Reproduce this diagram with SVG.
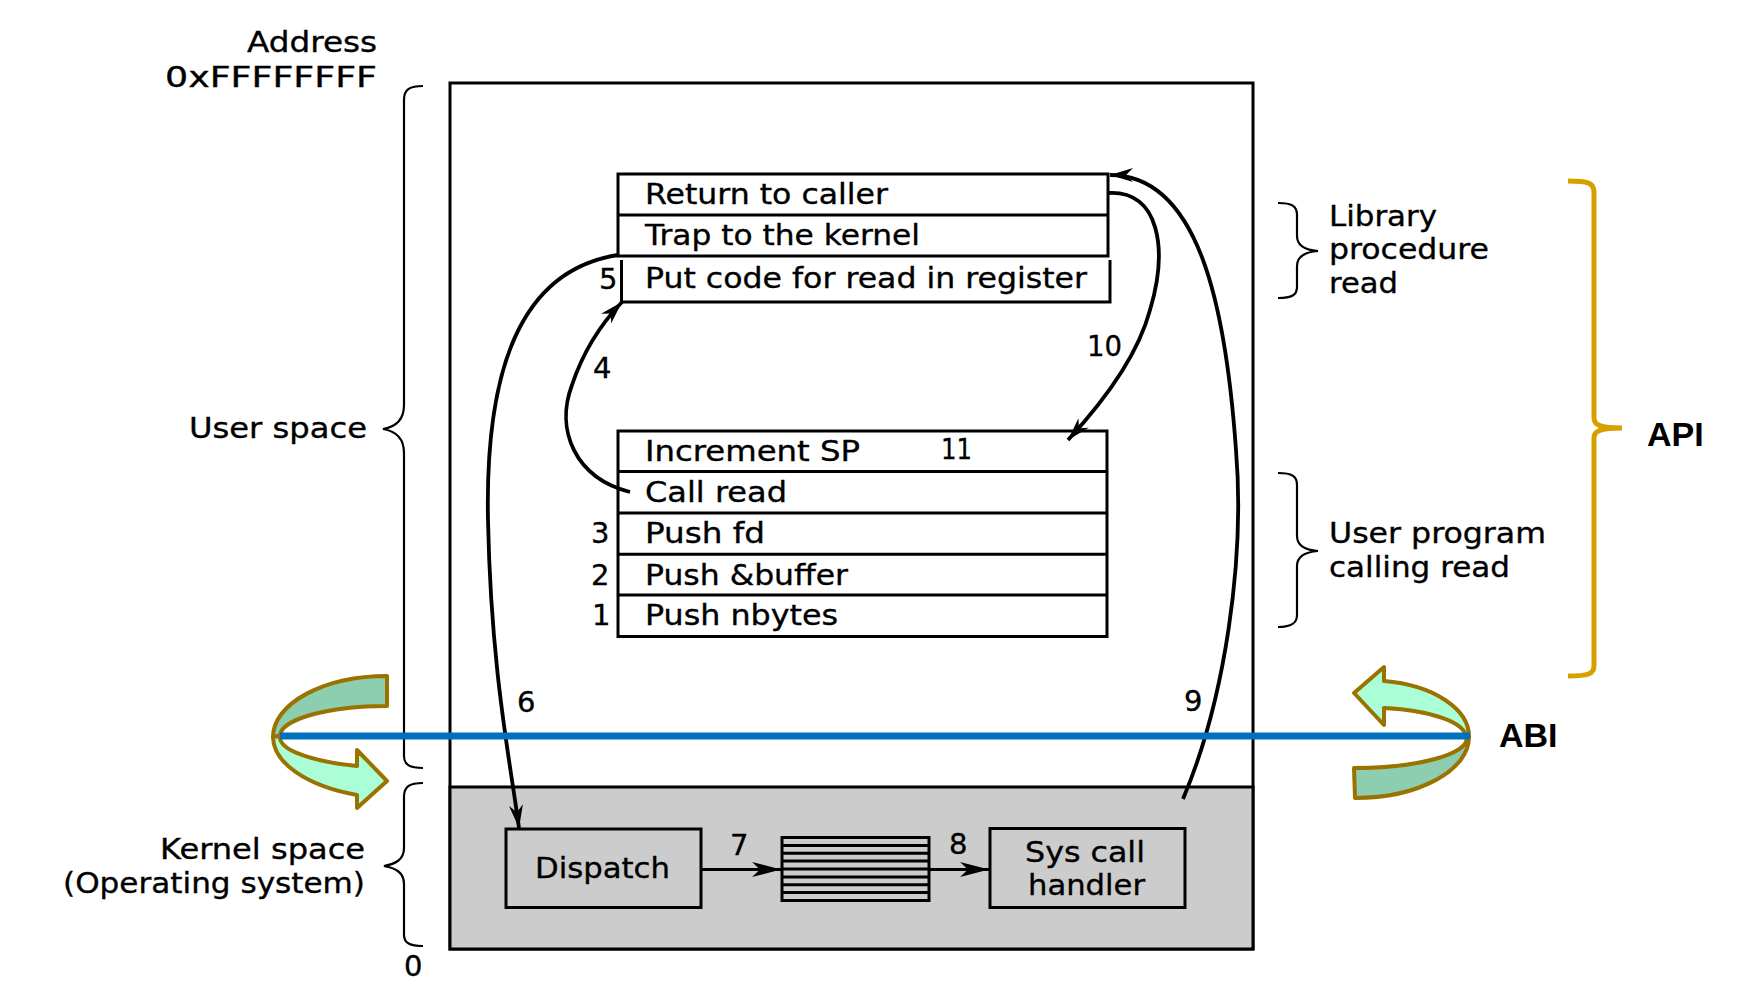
<svg xmlns="http://www.w3.org/2000/svg" width="1757" height="1000" viewBox="0 0 1757 1000">
<style>
  .t { font-family: "DejaVu Sans", "Liberation Sans", sans-serif; font-size: 28px; fill: #000; stroke: #000; stroke-width: 0.35; }
  .n { font-family: "DejaVu Sans", "Liberation Sans", sans-serif; font-size: 29px; fill: #000; stroke: #000; stroke-width: 0.35; }
  .b { font-family: "Liberation Sans", Arial, sans-serif; font-size: 34px; font-weight: bold; fill: #000; }
  .box { fill: none; stroke: #000; stroke-width: 3; }
  .ln { stroke: #000; stroke-width: 3; fill: none; }
  .br { fill: none; stroke: #000; stroke-width: 2.2; }
  .cv { fill: none; stroke: #000; stroke-width: 3.8; }
  .arr { stroke: #9A7200; stroke-width: 4; stroke-linejoin: round; }
  .front { fill: #AAFFD6; }
  .back { fill: #8DCDB0; }
</style>
<defs>
  <marker id="ah" markerUnits="userSpaceOnUse" viewBox="-31 -10 32 20" refX="0" refY="0" markerWidth="32" markerHeight="20" orient="auto">
    <path d="M0,0 L-29,-7.5 L-21,0 L-29,7.5 Z" fill="#000"/>
  </marker>
  <marker id="ahs" markerUnits="userSpaceOnUse" viewBox="-26 -10 27 20" refX="0" refY="0" markerWidth="27" markerHeight="20" orient="auto">
    <path d="M0,0 L-23,-7 L-16,0 L-23,7 Z" fill="#000"/>
  </marker>
</defs>
<rect width="1757" height="1000" fill="#fff"/>

<g id="address-space">
  <rect x="450" y="83" width="803" height="866" fill="#fff" stroke="#000" stroke-width="3"/>
  <rect id="kernel-space" x="450" y="787" width="803" height="162" fill="#CCCCCC" stroke="#000" stroke-width="3"/>
</g>

<g id="left-labels">
  <text class="t" x="247" y="52" textLength="130" lengthAdjust="spacingAndGlyphs">Address</text>
  <text class="t" x="165" y="87" textLength="212" lengthAdjust="spacingAndGlyphs">0xFFFFFFFF</text>
  <text class="t" x="189" y="438" textLength="178" lengthAdjust="spacingAndGlyphs">User space</text>
  <text class="t" x="160" y="859" textLength="205" lengthAdjust="spacingAndGlyphs">Kernel space</text>
  <text class="t" x="63" y="893" textLength="302" lengthAdjust="spacingAndGlyphs">(Operating system)</text>
  <text class="n" x="404" y="976">0</text>
  <path class="br" d="M423,86 C410,86 404,89 404,100 V405 C404,420 395,427 383,429 C395,431 404,438 404,453 V756 C404,765 410,768 423,768"/>
  <path class="br" d="M423,783 C410,783 404,786 404,797 V848 C404,860 395,864 384,866 C395,868 404,872 404,884 V935 C404,943 410,946 423,946"/>
</g>

<g id="library-procedure">
  <rect class="box" x="618" y="174" width="490" height="82"/>
  <line class="ln" x1="618" y1="215" x2="1108" y2="215"/>
  <path class="ln" d="M621.5,260 V302 H1110 V260"/>
  <text class="t" x="645" y="204" textLength="243" lengthAdjust="spacingAndGlyphs">Return to caller</text>
  <text class="t" x="645" y="245" textLength="275" lengthAdjust="spacingAndGlyphs">Trap to the kernel</text>
  <text class="t" x="645" y="288" textLength="442" lengthAdjust="spacingAndGlyphs">Put code for read in register</text>
</g>

<g id="user-program">
  <rect class="box" x="618" y="431" width="489" height="205.5"/>
  <line class="ln" x1="618" y1="471.5" x2="1107" y2="471.5"/>
  <line class="ln" x1="618" y1="513" x2="1107" y2="513"/>
  <line class="ln" x1="618" y1="554.3" x2="1107" y2="554.3"/>
  <line class="ln" x1="618" y1="595" x2="1107" y2="595"/>
  <text class="t" x="645" y="460.5" textLength="215" lengthAdjust="spacingAndGlyphs">Increment SP</text>
  <text class="t" x="645" y="502" textLength="142" lengthAdjust="spacingAndGlyphs">Call read</text>
  <text class="t" x="645" y="543" textLength="120" lengthAdjust="spacingAndGlyphs">Push fd</text>
  <text class="t" x="645" y="585" textLength="203" lengthAdjust="spacingAndGlyphs">Push &amp;buffer</text>
  <text class="t" x="645" y="625" textLength="193" lengthAdjust="spacingAndGlyphs">Push nbytes</text>
</g>

<g id="dispatch">
  <rect class="box" x="506" y="829" width="195" height="78.5"/>
  <text class="t" x="535" y="878" textLength="135" lengthAdjust="spacingAndGlyphs">Dispatch</text>
</g>

<g id="syscall-table">
  <rect class="box" x="782" y="837.5" width="147" height="63"/>
  <path class="ln" d="M782,845.4 H929 M782,853.3 H929 M782,861.1 H929 M782,869 H929 M782,876.9 H929 M782,884.8 H929 M782,892.6 H929"/>
</g>

<g id="syscall-handler">
  <rect class="box" x="990" y="828.5" width="195" height="79"/>
  <text class="t" x="1025" y="862" textLength="120" lengthAdjust="spacingAndGlyphs">Sys call</text>
  <text class="t" x="1028" y="895" textLength="117" lengthAdjust="spacingAndGlyphs">handler</text>
</g>

<g id="right-labels">
  <path class="br" d="M1278,203 C1292,203 1297,206 1297,215 V236 C1297,246 1305,250 1318,251 C1305,252 1297,256 1297,266 V287 C1297,295 1292,298 1278,298"/>
  <text class="t" x="1329" y="225.5" textLength="108" lengthAdjust="spacingAndGlyphs">Library</text>
  <text class="t" x="1329" y="259" textLength="160" lengthAdjust="spacingAndGlyphs">procedure</text>
  <text class="t" x="1329" y="293" textLength="69" lengthAdjust="spacingAndGlyphs">read</text>
  <path class="br" d="M1278,473 C1292,473 1297,476 1297,485 V536 C1297,546 1305,550 1318,551 C1305,552 1297,556 1297,566 V615 C1297,623 1292,627 1278,627"/>
  <text class="t" x="1329" y="543" textLength="217" lengthAdjust="spacingAndGlyphs">User program</text>
  <text class="t" x="1329" y="576.5" textLength="181" lengthAdjust="spacingAndGlyphs">calling read</text>
</g>

<g id="api">
  <path d="M1568,181 C1588,181 1594,183 1594,192 V418 C1594,425 1600,428 1622,428 C1600,428 1594,431 1594,438 V666 C1594,674 1588,676 1568,676" fill="none" stroke="#D6A100" stroke-width="5"/>
  <text class="b" x="1647" y="446">API</text>
</g>

<g id="connectors">
  <path class="cv" d="M618,255 C520,270 485,370 488,520 C491,670 510,760 519,828" marker-end="url(#ahs)"/>
  <path class="cv" d="M630,492 C575,478 555,430 572,385 C582,355 600,325 622,302" marker-end="url(#ahs)"/>
  <path class="cv" d="M1108,193 C1160,190 1168,250 1150,310 C1138,355 1105,400 1068,440" marker-end="url(#ahs)"/>
  <path class="cv" d="M1183,799 C1225,700 1245,560 1236,450 C1226,310 1200,175 1110,175" marker-end="url(#ahs)"/>
  <path class="ln" d="M701,869.5 H781" marker-end="url(#ah)"/>
  <path class="ln" d="M929,869.5 H989" marker-end="url(#ah)"/>
  <text class="n" x="599" y="289">5</text>
  <text class="n" x="593" y="378">4</text>
  <text class="n" x="591" y="543">3</text>
  <text class="n" x="591" y="585">2</text>
  <text class="n" x="592" y="625">1</text>
  <text class="n" x="1087" y="356" textLength="35" lengthAdjust="spacingAndGlyphs">10</text>
  <text class="n" x="941" y="459" textLength="31" lengthAdjust="spacingAndGlyphs">11</text>
  <text class="n" x="517" y="712">6</text>
  <text class="n" x="1184" y="711">9</text>
  <text class="n" x="730" y="855">7</text>
  <text class="n" x="949" y="854">8</text>
</g>

<g id="abi">
  <path class="arr back" d="M387,676 A114,61 0 0 0 273,737 L280,736 A107,30 0 0 1 387,706 Z"/>
  <path class="arr front" d="M273,737 A127,62 0 0 0 357,795 L357,808 L387,781 L357,750 L357,766 A120,31 0 0 1 280,736 Z"/>
  <path class="arr back" d="M1469,737 A114,61 0 0 1 1355,798 L1354,768 A113,30 0 0 0 1467,738 Z"/>
  <path class="arr front" d="M1354,693 L1384,667 L1384,681 A99,56 0 0 1 1469,737 L1466,738 A96,30 0 0 0 1384,708 L1384,725 Z"/>
  <line x1="280" y1="736" x2="1470" y2="736" stroke="#0070C0" stroke-width="7"/>
  <text class="b" x="1499" y="747">ABI</text>
</g>
</svg>
